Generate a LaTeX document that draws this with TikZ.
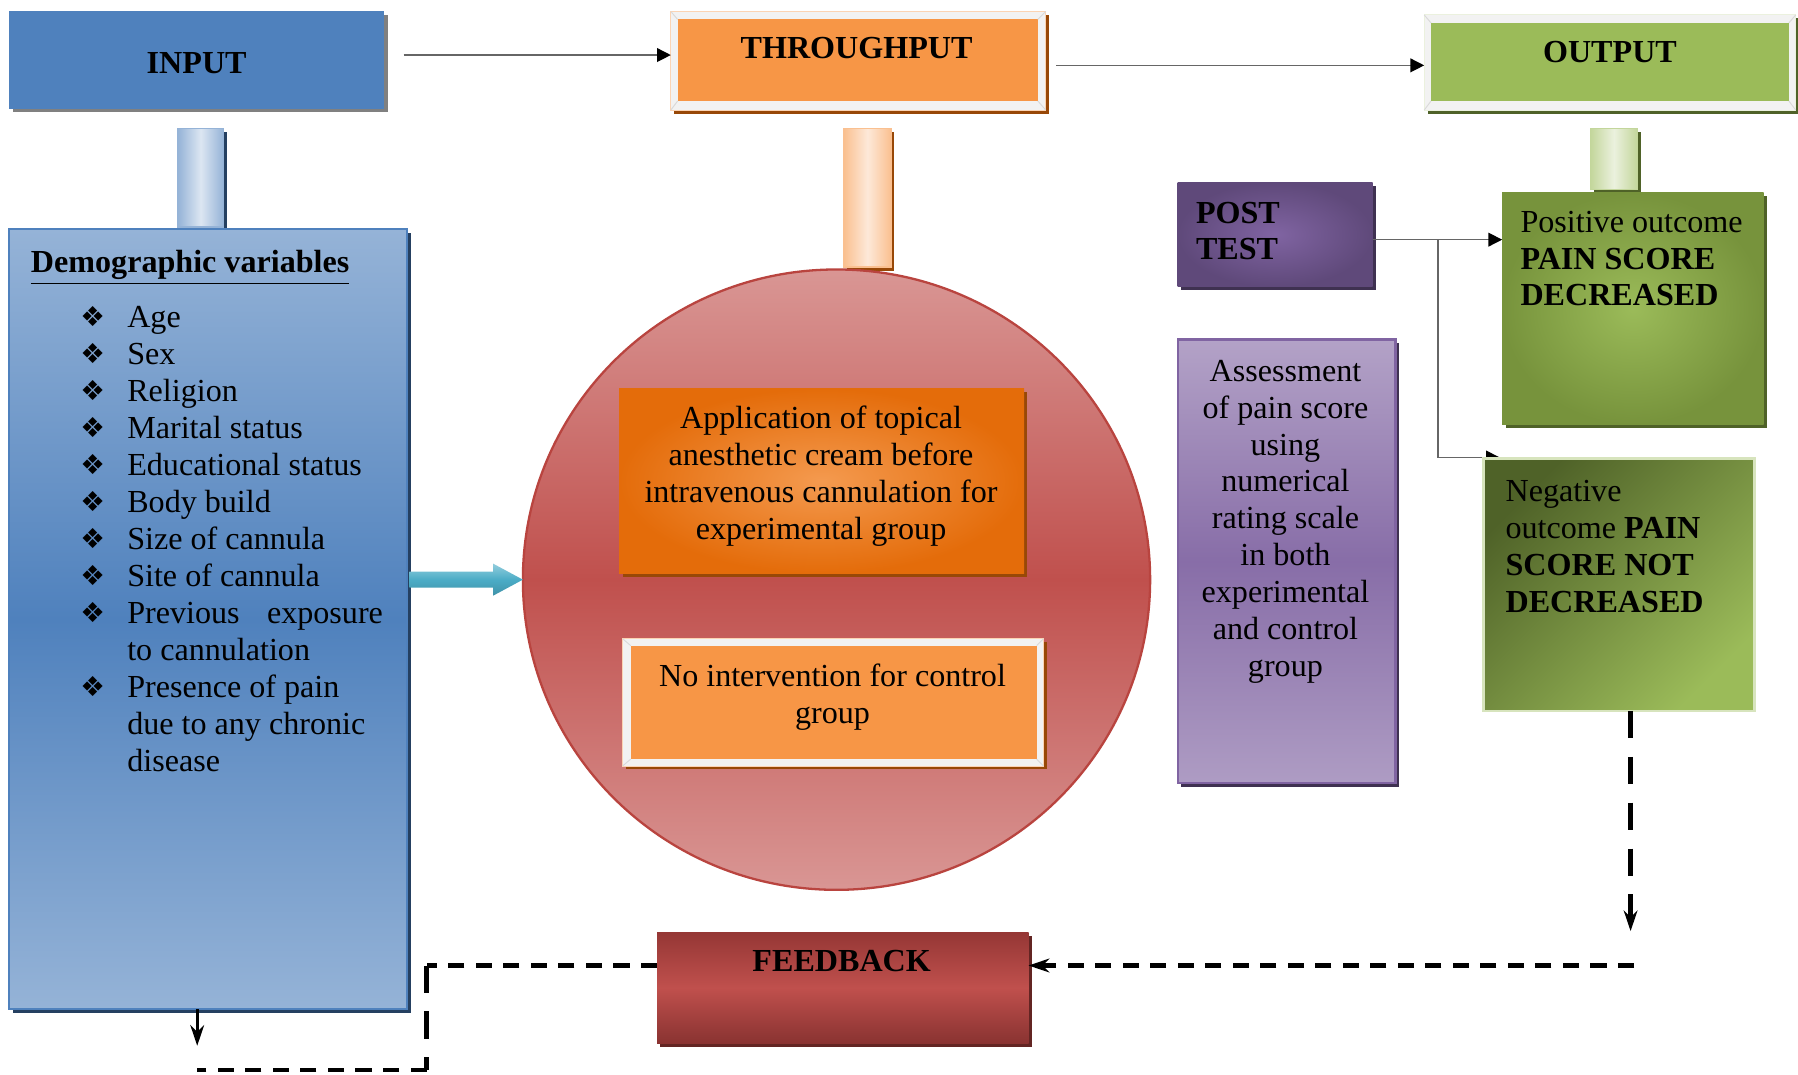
\documentclass[tikz,border=0pt]{standalone}
\usepackage{fontspec}
\setmainfont{Liberation Serif}
\newfontfamily\symf{DejaVu Sans}
\usetikzlibrary{arrows.meta,shapes.geometric,shadows,calc}
\definecolor{inblue}{HTML}{4F81BD}
\definecolor{ltblue}{HTML}{95B3D7}
\definecolor{palebl}{HTML}{DCE6F2}
\definecolor{navy}{HTML}{254061}
\definecolor{greyS}{HTML}{808080}
\definecolor{orng}{HTML}{F79646}
\definecolor{dkorng}{HTML}{E46C0A}
\definecolor{midorng}{HTML}{F49A4F}
\definecolor{ltorng}{HTML}{FAC090}
\definecolor{paleor}{HTML}{FDE9D9}
\definecolor{brwn}{HTML}{984807}
\definecolor{frameor}{HTML}{FBD4B4}
\definecolor{framegr}{HTML}{F2F2F2}
\definecolor{grn}{HTML}{9BBB59}
\definecolor{olive}{HTML}{77933C}
\definecolor{dkgrn}{HTML}{4F6228}
\definecolor{ltgrn}{HTML}{C3D69B}
\definecolor{palegr}{HTML}{EBF1DE}
\definecolor{edgegr}{HTML}{D7E4BD}
\definecolor{purp}{HTML}{8064A2}
\definecolor{dkpurp}{HTML}{5F497A}
\definecolor{shpurp}{HTML}{3F3151}
\definecolor{lav}{HTML}{B3A2C7}
\definecolor{rd}{HTML}{C0504D}
\definecolor{dkrd}{HTML}{953735}
\definecolor{shrd}{HTML}{632523}
\definecolor{pnk}{HTML}{D99694}
\definecolor{edgerd}{HTML}{B9443F}
\definecolor{cyn}{HTML}{4BACC6}
\definecolor{ltcyn}{HTML}{93CDDD}
\tikzset{
  shad/.style={drop shadow={fill=#1,opacity=1,shadow xshift=1.5pt,shadow yshift=-1.5pt}},
  conn/.style={draw=black!60, line width=0.6pt, -{Triangle[length=6pt,width=6pt,color=black]}},
  hdash/.style={draw=black, line width=1.9pt, dash pattern=on 7pt off 5pt},
  vdash/.style={draw=black, line width=1.9pt, dash pattern=on 12pt off 8pt},
  tipS/.style={-{Stealth[length=9pt,width=6pt]}},
  bev/.style={draw=black!15, line width=0.4pt},
  lbl/.style={font=\fontsize{14pt}{16.1pt}\selectfont\bfseries},
  txt/.style={font=\fontsize{14pt}{16.1pt}\selectfont},
}
\begin{document}
\begin{tikzpicture}[x=0.5pt,y=-0.5pt,every node/.style={inner sep=0pt,outer sep=0pt}]
\useasboundingbox (0,0) rectangle (1568,937);
\fill[white] (0,0) rectangle (1568,937);

% ---- top row ----
\node[shad=greyS, fill=inblue, minimum width=163.5pt, minimum height=42.5pt] (input) at (171.5,52.5) {};
\node[lbl] (tInput) at (171.5,55) {INPUT};

\node[shad=brwn, fill=framegr, draw=frameor, line width=0.4pt, minimum width=163.5pt, minimum height=43pt] (thrO) at (748.5,53) {};
\node[fill=orng, minimum width=157pt, minimum height=35.5pt] (thrI) at (748,52.5) {};
\draw[bev] (thrO.north west) -- (thrI.north west) (thrO.north east) -- (thrI.north east)
           (thrO.south west) -- (thrI.south west) (thrO.south east) -- (thrI.south east);
\node[lbl] (tThr) at (747,42) {THROUGHPUT};

\node[shad=dkgrn, fill=framegr, draw=palegr, line width=0.4pt, minimum width=162pt, minimum height=41.5pt] (outO) at (1404,54.5) {};
\node[fill=grn, minimum width=156pt, minimum height=34pt] (outI) at (1404,54) {};
\draw[bev] (outO.north west) -- (outI.north west) (outO.north east) -- (outI.north east)
           (outO.south west) -- (outI.south west) (outO.south east) -- (outI.south east);
\node[lbl] (tOut) at (1404,45) {OUTPUT};

\draw[conn] ([xshift=8.5pt,yshift=2.25pt]input.east) -- ([yshift=2.25pt]input.east -| thrO.west);
\draw[conn] ([xshift=4.5pt,yshift=-2pt]thrO.east) -- ([yshift=-2pt]thrO.east -| outO.west);

% ---- connector bars ----
\node[shad=navy, left color=ltblue, right color=ltblue, middle color=palebl, draw=ltblue, line width=0.6pt, minimum width=20pt, minimum height=43pt] (barB) at (175,155) {};
\node[shad=brwn, left color=ltorng, right color=ltorng, middle color=paleor, draw=ltorng, line width=0.6pt, minimum width=20.5pt, minimum height=60.5pt] (barO) at (756.5,172.5) {};
\node[shad=dkgrn, left color=ltgrn, right color=ltgrn, middle color=palegr, draw=ltgrn, line width=0.6pt, minimum width=20.5pt, minimum height=26.5pt] (barG) at (1407.5,138.5) {};

% ---- demographic box ----
\node[shad=navy, top color=ltblue, bottom color=ltblue, middle color=inblue, draw=inblue, line width=1pt, minimum width=173.5pt, minimum height=340pt] (demo) at (181.5,540) {};
\node[lbl, anchor=base west] (tDemo) at (27,238) {\underline{Demographic variables}};
\foreach [count=\i from 0] \t/\b in {Age/1,Sex/1,Religion/1,Marital status/1,Educational status/1,Body build/1,Size of cannula/1,Site of cannula/1,{\makebox[111.5pt][s]{Previous exposure}}/1,to cannulation/0,Presence of pain/1,due to any chronic/0,disease/0}{
  \node[txt, anchor=base west] (li\i) at (111,{286+32.2*\i}) {\t};
  \ifnum\b=1
    \node[anchor=base west, font=\symf\fontsize{12pt}{14pt}\selectfont] (bu\i) at (70,{285+32.2*\i}) {❖};
  \fi
}

% ---- circle ----
\node[ellipse, top color=pnk, bottom color=pnk, middle color=rd, draw=edgerd, line width=1pt, minimum width=273.5pt, minimum height=270.5pt] (circ) at (729.5,505.5) {};
\coordinate (ca1) at ($(demo.east |- circ.west)+(2,0)$);
\shade[top color=ltcyn, bottom color=cyn!85!black, middle color=cyn]
  ($(ca1)+(0,-7)$) -- ($(circ.west)+(-26,-7)$) -- ($(circ.west)+(-26,-14)$) -- (circ.west)
  -- ($(circ.west)+(-26,14)$) -- ($(circ.west)+(-26,7)$) -- ($(ca1)+(0,7)$) -- cycle;

\node[shad=brwn, inner color=midorng, outer color=dkorng, minimum width=176.5pt, minimum height=80.5pt] (app) at (716.5,419.5) {};
\node[txt, align=center] (tApp) at (716,415) {Application of topical\\anesthetic cream before\\intravenous cannulation for\\experimental group};

\node[shad=brwn, fill=framegr, draw=frameor, line width=0.4pt, minimum width=183.5pt, minimum height=55.5pt] (noiO) at (726.5,612.5) {};
\node[fill=orng, minimum width=177pt, minimum height=49.5pt] (noiI) at (727,612.5) {};
\draw[bev] (noiO.north west) -- (noiI.north west) (noiO.north east) -- (noiI.north east)
           (noiO.south west) -- (noiI.south west) (noiO.south east) -- (noiI.south east);
\node[txt, align=center] (tNoi) at (726,608) {No intervention for control\\group};

% ---- post test / assessment ----
\node[shad=shpurp, inner color=purp, outer color=dkpurp, minimum width=85pt, minimum height=45.5pt] (post) at (1112,204.5) {};
\node[lbl, align=left, anchor=west] (tPost) at (1043,201.5) {POST\\TEST};

\node[shad=shpurp, top color=lav, bottom color=lav!90!purp, middle color=purp!85!lav, draw=purp, line width=1pt, minimum width=95pt, minimum height=193.5pt] (assess) at (1122,489.5) {};
\node[txt, align=center] (tAss) at (1121,455) {Assessment\\of pain score\\using\\numerical\\rating scale\\in both\\experimental\\and control\\group};

% ---- outcomes ----
\node[shad=dkgrn, inner color=grn, outer color=olive, minimum width=114pt, minimum height=101pt] (pos) at (1424,269) {};
\node[txt, align=left, anchor=west] (tPos) at (1326,225.5) {Positive outcome\\\textbf{PAIN SCORE}\\\textbf{DECREASED}};

\coordinate (br) at (1254,209);
\draw[conn] ([yshift=-2.25pt]post.east) -- ([yshift=-2.25pt]post.east -| pos.west);
\draw[conn] (br) |- (1308,399);

\node[top color=dkgrn, bottom color=grn, shading angle=45, draw=edgegr, line width=1.2pt, minimum width=118pt, minimum height=110pt] (neg) at (1412,510) {};
\node[txt, align=left, anchor=west] (tNeg) at (1313,476.5) {Negative\\outcome \textbf{PAIN}\\\textbf{SCORE NOT}\\\textbf{DECREASED}};

% ---- feedback ----
\node[shad=shrd, top color=dkrd, bottom color=dkrd!92!black, middle color=rd, minimum width=162pt, minimum height=48.5pt] (fb) at (735,861.5) {};
\node[lbl] (tFb) at (734,838) {FEEDBACK};

\coordinate (dR) at (1422,812);
\coordinate (hR) at (1425,842);
\coordinate (lc1) at (372,842);
\coordinate (lc2) at (372,933);
\coordinate (lc3) at (172,933);
\coordinate (da) at (172,912);
\draw[vdash, tipS] (neg.south -| dR) -- (dR);
\draw[hdash, tipS] (hR) -- (hR -| fb.east);
\draw[hdash] (fb.west |- lc1) -- (lc1);
\draw[vdash] (lc1) -- (lc2);
\draw[hdash] (lc2) -- (lc3);
\draw[line width=1.4pt, tipS] (demo.south -| da) -- (da);
\end{tikzpicture}
\end{document}
